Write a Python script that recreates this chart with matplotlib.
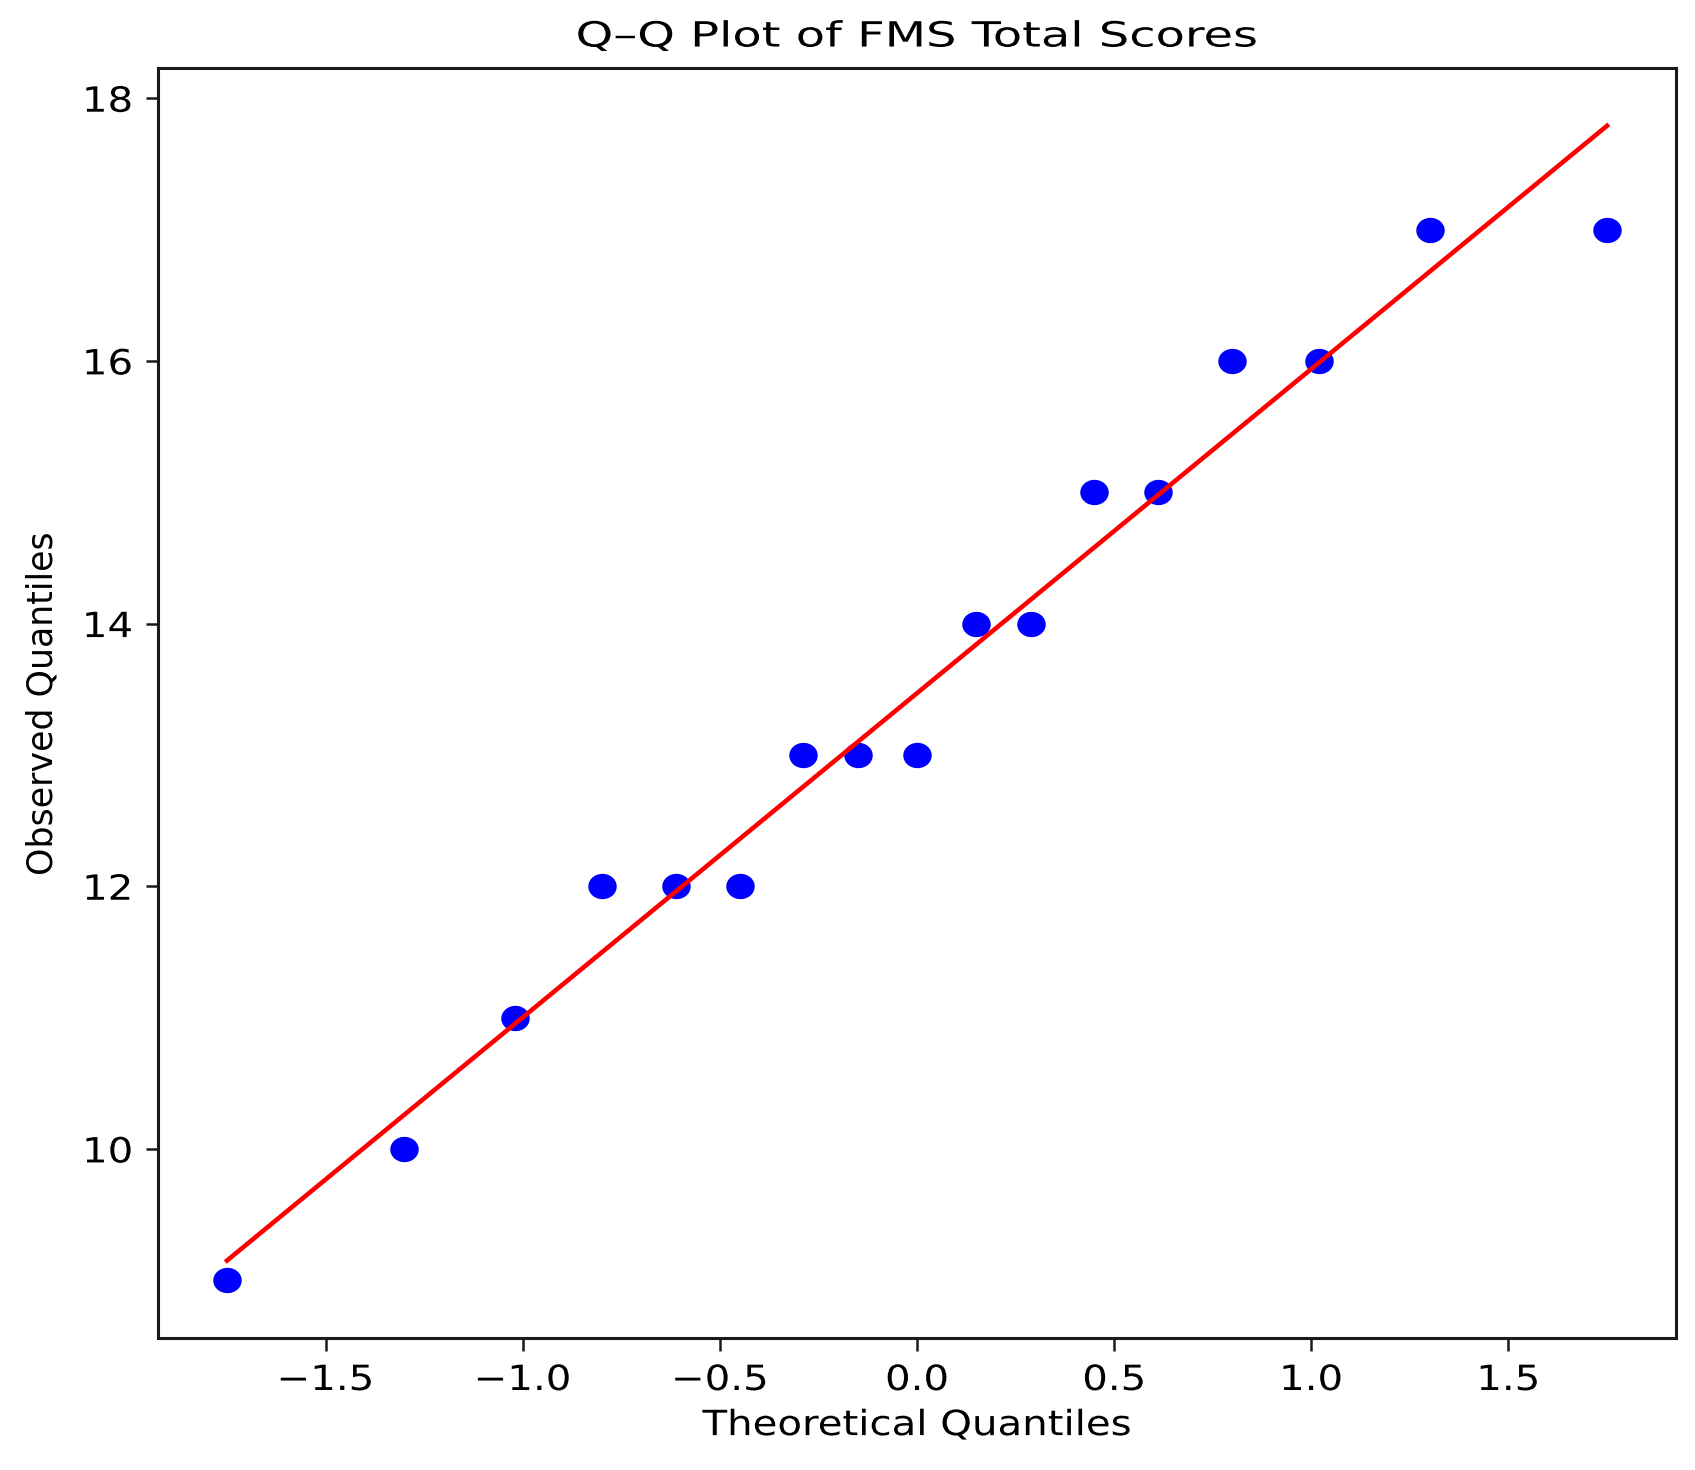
import numpy as np
import matplotlib
matplotlib.use("Agg")
import matplotlib.pyplot as plt
from matplotlib.path import Path
from matplotlib.transforms import Affine2D
from matplotlib.patheffects import AbstractPathEffect

# Data
theoretical_q = [-1.75, -1.30, -1.02, -0.80, -0.61, -0.45, -0.29, -0.15, 0.00,
                 0.15, 0.29, 0.45, 0.61, 0.80, 1.02, 1.30, 1.75]
observed_q = [9, 10, 11, 12, 12, 12, 13, 13, 13, 14, 14, 15, 15, 16, 16, 17, 17]
fit_x = [-1.75, 1.75]
fit_y = [9.15, 17.79]
yticks = [10, 12, 14, 16, 18]
xticks = [-1.5, -1.0, -0.5, 0.0, 0.5, 1.0, 1.5]


class HStretch(AbstractPathEffect):
    """Draw text stretched horizontally (the reference image is widened)."""

    def __init__(self, sx, anchor='center'):
        super().__init__()
        self.sx = sx
        self.anchor = anchor

    def draw_path(self, renderer, gc, tpath, affine, rgbFace=None):
        ext = affine.transform_path(tpath).get_extents()
        if self.anchor == 'right':
            x0 = ext.x1
        elif self.anchor == 'left':
            x0 = ext.x0
        else:
            x0 = 0.5 * (ext.x0 + ext.x1)
        new_aff = affine + Affine2D().translate(-x0, 0).scale(self.sx, 1).translate(x0, 0)
        renderer.draw_path(gc, tpath, new_aff, rgbFace)


plt.rcParams['font.family'] = ['DejaVu Sans']
fs = 25

fig = plt.figure(figsize=(16.95, 14.7), dpi=100)
ax = fig.add_axes([0.0932, 0.0898, 0.9888 - 0.0932, 0.9537 - 0.0898])

# slightly elliptical marker (wider than tall)
t = np.linspace(0, 2 * np.pi, 64)
ell = Path(np.column_stack([np.cos(t), 0.89 * np.sin(t)]), closed=True)

ax.plot(theoretical_q, observed_q, linestyle='none', marker=ell,
        markersize=20.5, color='#0000ff', markeredgewidth=0)
ax.plot(fit_x, fit_y, color='#ff0000', linewidth=3.3)

ax.set_xticks(xticks)
ax.set_yticks(yticks)
ax.tick_params(labelsize=fs, length=9, width=1.8, pad=9, color='#1a1a1a')
for sp in ax.spines.values():
    sp.set_linewidth(2.2)
    sp.set_color('#1a1a1a')

for tk in ax.xaxis.get_major_ticks():
    tk.label1.set_path_effects([HStretch(1.16, 'center')])
for tk in ax.yaxis.get_major_ticks():
    tk.label1.set_path_effects([HStretch(1.16, 'right')])

title = ax.set_title('Q\u2013Q Plot of FMS Total Scores', fontsize=fs, pad=15.5)
title.set_path_effects([HStretch(1.38, 'center')])
xl = ax.set_xlabel('Theoretical Quantiles', fontsize=fs, labelpad=8)
xl.set_path_effects([HStretch(1.16, 'center')])
ax.set_ylabel('Observed Quantiles', fontsize=fs, labelpad=21)

fig.savefig('out.png', dpi=100)
